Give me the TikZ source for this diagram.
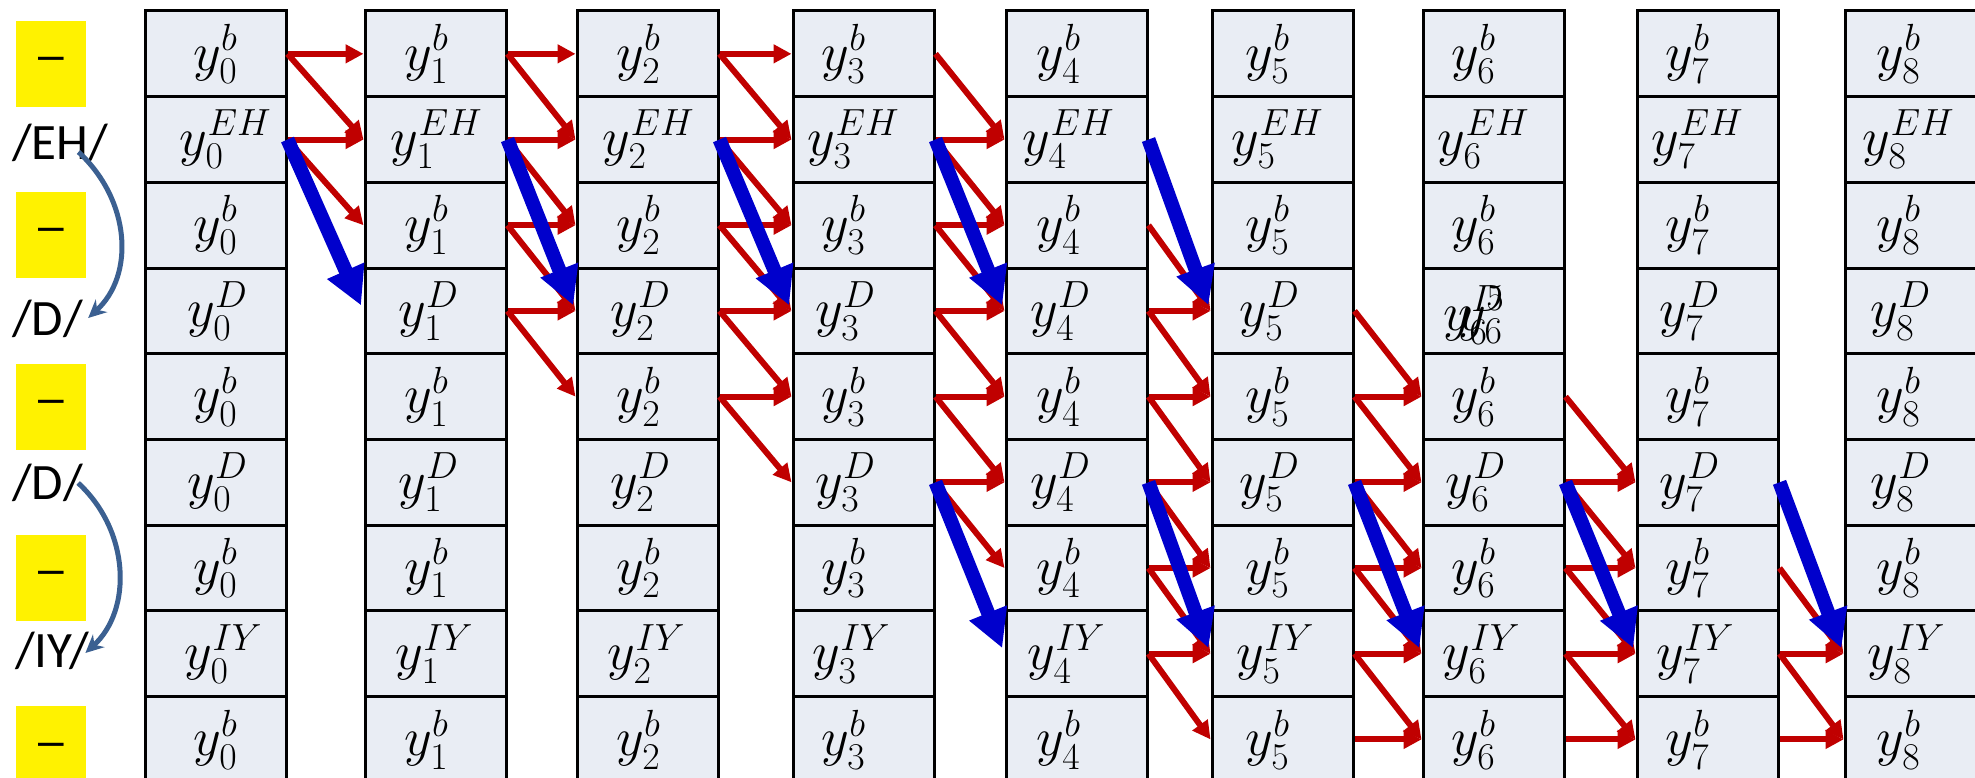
\RequirePackage{fix-cm}
\documentclass[tikz,border=0pt]{standalone}
\usepackage{fontspec}
\newfontfamily\lblfont{Carlito}
\newfontfamily\dashfont{Liberation Sans}
\usetikzlibrary{arrows.meta,calc}

\definecolor{cellfill}{RGB}{233,237,244}
\definecolor{pathred}{RGB}{192,0,0}
\definecolor{skipblue}{RGB}{0,0,204}
\definecolor{bendblue}{RGB}{59,96,145}

\begin{document}
\begin{tikzpicture}[x=1pt,y=-1pt,
	cell/.style={draw=black, line width=3pt, fill=cellfill, minimum width=141pt, minimum height=85.7pt, inner sep=0pt, font=\fontsize{54}{56}\selectfont},
	celltext/.style={anchor=west, inner sep=0pt, font=\fontsize{54}{56}\selectfont},
	blank/.style={fill=yellow, minimum width=70pt, minimum height=86pt, inner sep=0pt, font=\dashfont\fontsize{46}{48}\selectfont},
	phone/.style={anchor=base west, inner sep=0pt, font=\lblfont\fontsize{51}{55}\selectfont},
	redarrow/.style={draw=pathred, line width=6pt, -{Triangle[length=18pt,width=18pt]}},
	bluearrow/.style={draw=skipblue, line width=14pt, -{Triangle[length=38pt,width=38pt]}, shorten >=6pt},
	bendarrow/.style={draw=bendblue, line width=5pt, -{Stealth[length=18pt,width=17pt]}}]
	\useasboundingbox (0,0) rectangle (1975,778);
	\clip (0,0) rectangle (1975,778);

	% trellis: column = frame, row = state
	\foreach \x/\dx [count=\col from 0] in {145/0,365/-9,577/-9,793/-20,1006/-18,1212/-15,1423/-20,1637/-20,1845/-17}
		\foreach \lab/\lx [count=\row from 0] in {b/0,EH/10,b/0,D/2,b/0,D/2,b/0,IY/8,b/0}
			\node[cell] (y\col-\row) at (\x+70.5,53.85+85.7*\row)
				{\makebox[0pt]{\hspace*{\dx pt}\hspace*{\dx pt}\hspace*{\lx pt}\hspace*{\lx pt}\raisebox{-4pt}{$y_{\col}^{\lab}$}}};

	% this cell carries two labels printed over one another
	\node[cell] (y6-3) at (y6-3.center) {};
	\node[celltext] (y6-3-D) at ([xshift=22pt,yshift=-4pt]y6-3.west) {$y_6^D$};
	\node[celltext] (y6-3-5) at ([xshift=37pt,yshift=-4pt]y6-3.west) {$y_6^5$};

	% label sequence on the left
	\foreach \row in {0,2,4,6,8}
		\node[blank] (blank\row) at (51,63.85+85.7*\row) {\textendash};
	\node[phone] (ph1) at (12,160) {/EH/};
	\node[phone] (ph3) at (12,335) {/D/};
	\node[phone] (ph5) at (12,499) {/D/};
	\node[phone] (ph7) at (15,667) {/IY/};
	\draw[bendarrow] ($(ph1.base east)+(-30,-8)$) .. controls +(52,48) and +(47,-43) .. ($(ph3.base east)+(5,-17)$);
	\draw[bendarrow] ($(ph5.base east)+(-5,-16)$) .. controls +(52,48) and +(47,-43) .. ($(ph7.base east)+(-4,-14)$);

	% stay in a state, or go one state down
	\foreach \col/\hs/\ds [evaluate=\col as \nx using int(\col+1)] in
		{0/{0,1}/{0,1}, 1/{0,1,2,3}/{0,1,2,3}, 2/{0,1,2,3,4}/{0,1,2,3,4},
		 3/{1,2,3,4,5}/{0,1,2,3,4,5}, 4/{3,4,5,6,7}/{2,3,4,5,6,7},
		 5/{4,5,6,7,8}/{3,4,5,6,7}, 6/{5,6,7,8}/{4,5,6,7}, 7/{7,8}/{6,7}} {
		\foreach \s in \hs
			\draw[redarrow] (y\col-\s.east) -- (y\nx-\s.west);
		\foreach \s [evaluate=\s as \dn using int(\s+1)] in \ds
			\draw[redarrow] (y\col-\s.east) -- (y\nx-\dn.west);
	}

	% skip over a blank
	\foreach \col/\s in {0/1,1/1,2/1,3/1,3/5,4/1,4/5,5/5,6/5,7/5} {
		\pgfmathtruncatemacro\nx{\col+1}
		\pgfmathtruncatemacro\dn{\s+2}
		\draw[bluearrow] (y\col-\s.east) -- (y\nx-\dn.west);
	}
\end{tikzpicture}
\end{document}
